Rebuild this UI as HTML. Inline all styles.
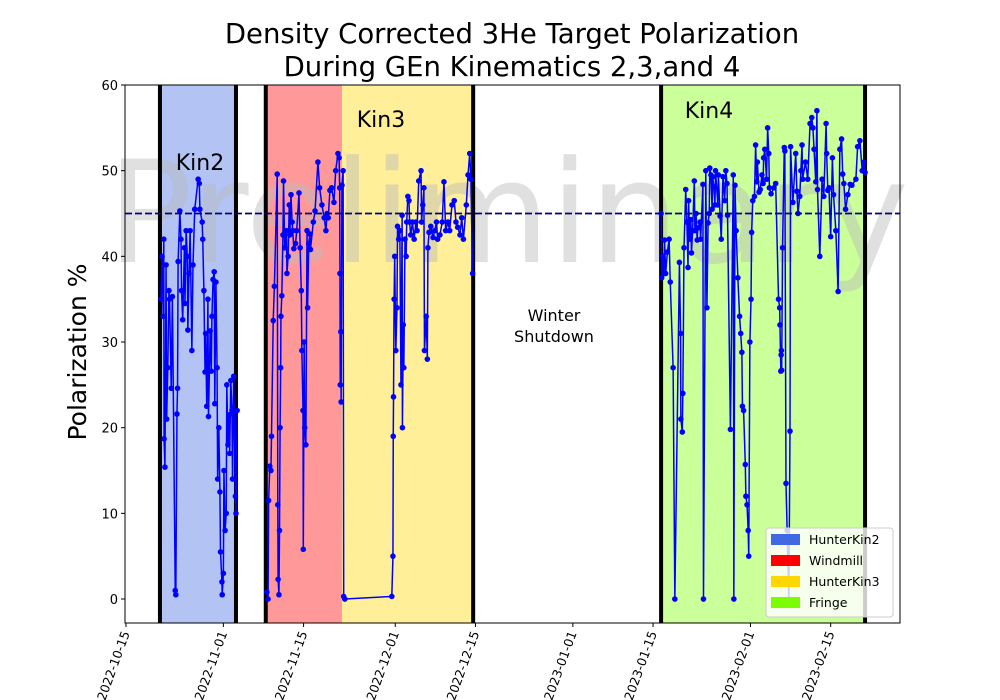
<!DOCTYPE html>
<html><head><meta charset="utf-8"><style>
body{margin:0;background:#fff;}
svg{display:block;font-family:"DejaVu Sans","Liberation Sans",sans-serif;}
</style></head><body>
<svg id="chart" width="1000" height="700">
<text x="512" y="43" font-size="27.5" text-anchor="middle">Density Corrected 3He Target Polarization</text>
<text x="512" y="76" font-size="27.5" text-anchor="middle">During GEn Kinematics 2,3,and 4</text>
<text transform="translate(86,352) rotate(-90)" font-size="25" text-anchor="middle">Polarization %</text>
<g id="bands"></g>
<text x="508" y="262" font-size="142" fill="#bbbbbb" fill-opacity="0.45" text-anchor="middle">Preliminary</text>
<g id="vlines"></g>
<g id="series"></g>
<g id="refline"></g>
<text x="200" y="170" font-size="22" text-anchor="middle">Kin2</text>
<text x="381" y="127" font-size="22" text-anchor="middle">Kin3</text>
<text x="709" y="118" font-size="22" text-anchor="middle">Kin4</text>
<text x="554" y="321" font-size="16" text-anchor="middle">Winter</text>
<text x="554" y="342" font-size="16" text-anchor="middle">Shutdown</text>
<rect x="125" y="85" width="775" height="538" fill="none" stroke="#000" stroke-width="1"/>
<g id="axes"></g>
<g>
<rect x="766" y="528" width="127" height="89" rx="3" fill="#fff" fill-opacity="0.8" stroke="#ccc"/>
<rect x="771" y="534" width="29" height="11" fill="#4169e1"/>
<text x="809" y="544" font-size="12.5">HunterKin2</text>
<rect x="771" y="555" width="29" height="11" fill="#ff0000"/>
<text x="809" y="565" font-size="12.5">Windmill</text>
<rect x="771" y="576" width="29" height="11" fill="#ffd700"/>
<text x="809" y="586" font-size="12.5">HunterKin3</text>
<rect x="771" y="597" width="29" height="11" fill="#7cfc00"/>
<text x="809" y="607" font-size="12.5">Fringe</text>
</g>
</svg>
<script>
// x in days since 2022-10-15
const bandNames=["hunterkin2-band","windmill-band","hunterkin3-band","fringe-band"];
const bandStart=[5.93,24.4,37.7,93.4];
const bandEnd=[19.2,37.7,60.6,129.0];
const bandColors=["#b3c3f3","#ff9999","#ffef99","#cbff99"];
const boundaryDays=[5.93,19.2,24.4,60.6,93.4,129.0];
const refValue=45;
const yTicks=[0,10,20,30,40,50,60];
const xTickDays=[0,17,31,47,61,78,92,109,123];
const xTickLabels=["2022-10-15","2022-11-01","2022-11-15","2022-12-01","2022-12-15","2023-01-01","2023-01-15","2023-02-01","2023-02-15"];
const days=[6.1,6.3,6.5,6.6,6.65,6.8,7.0,7.1,7.3,7.5,7.6,7.9,8.1,8.6,8.7,8.9,9.0,9.1,9.4,9.6,9.7,9.9,10.2,10.3,10.5,10.7,10.8,11.0,11.2,11.5,11.7,12.0,12.6,12.8,12.9,13.3,13.4,13.6,13.8,13.9,14.1,14.3,14.4,14.7,14.9,15.0,15.2,15.4,15.5,15.7,15.9,16.0,16.2,16.4,16.5,16.75,16.8,17.0,17.1,17.3,17.5,17.6,17.8,18.0,18.1,18.3,18.5,18.6,18.8,19.1,19.2,19.4,
24.6,24.8,24.9,25.1,25.3,25.4,25.7,25.9,26.4,26.5,26.55,26.7,26.8,26.9,27.0,27.05,27.2,27.4,27.5,27.7,28.0,28.1,28.3,28.5,28.6,28.8,29.0,29.1,29.3,29.6,29.8,30.2,30.4,30.6,30.7,30.9,30.95,31.1,31.2,31.4,31.6,31.7,31.9,32.1,32.2,32.7,33.0,33.5,33.8,34.2,34.6,34.9,35.1,35.3,35.6,35.9,36.3,36.6,37.0,37.2,37.3,37.35,37.4,37.5,37.55,37.7,37.9,38.0,38.2,
46.4,46.6,46.65,46.7,46.8,46.9,47.1,47.3,47.4,47.6,47.8,48.0,48.2,48.25,48.4,48.5,48.7,48.9,49.0,49.2,49.4,49.5,49.7,50.0,50.3,50.6,50.8,51.1,51.5,51.6,51.8,52.0,52.1,52.4,52.6,52.7,52.9,53.2,53.6,53.9,54.2,54.4,54.8,55.2,55.5,55.8,56.2,56.5,56.9,57.3,57.6,57.9,58.3,58.6,58.9,59.4,59.7,60.0,60.2,60.5,
93.4,93.5,93.7,93.9,94.0,94.2,94.5,94.8,95.0,95.5,95.8,96.6,96.8,96.85,97.1,97.2,97.4,97.7,97.9,98.1,98.2,98.4,98.6,98.7,98.9,99.2,99.3,99.5,99.7,99.8,100.2,100.3,100.7,100.8,101.2,101.4,101.6,101.8,101.9,102.1,102.3,102.4,102.6,102.8,102.9,103.3,103.4,103.7,103.9,104.2,104.5,104.7,104.9,105.0,105.5,106.0,106.1,106.3,106.5,106.8,107.1,107.3,107.5,107.6,107.8,108.1,108.2,108.4,108.6,108.7,108.9,109.1,109.2,109.4,109.7,109.9,110.1,110.2,110.5,110.7,111.0,111.2,111.3,111.5,111.8,112.0,112.2,112.3,112.6,113.1,113.4,113.9,114.1,114.15,114.3,114.35,114.4,114.45,114.6,114.9,115.0,115.2,115.4,115.7,115.9,116.0,116.4,116.9,117.1,117.3,117.6,117.8,118.0,118.1,118.6,119.0,119.4,119.7,119.9,120.1,120.4,120.6,120.7,121.1,121.5,121.8,122.2,122.3,122.5,122.7,123.0,123.3,123.5,123.9,124.3,124.6,124.9,125.1,125.3,125.6,126.0,126.4,126.7,127.4,127.7,128.1,128.5,128.8,129.0];
const pol=[35,40,33,42,18.7,15.4,39,21,27,36,35,24.6,35.3,1,0.5,21.6,24.6,39.4,45.3,42,36,32.6,41,34.5,43,40,31.4,38,43,29,39,45.5,49,48.5,45.5,44,42,36,26.5,31,22.5,35,21.3,31.3,26.6,33,37.3,38.2,22.8,37,27,14,20,12.5,5.5,2,0.5,3,15,8,10,25,18,21.5,17,25.5,22,14,26,12,10,22,
0.8,0,11.5,15.5,15,19,32.5,36.5,49.6,11,2.3,0.5,8,20,27,33,35.4,42.5,48.8,41,43,38,40,46,42.5,47.2,44,43,40.9,41.5,43,47.4,41,36,29,22,5.8,30,20,18,43,34,41.5,42.6,40.8,44,45.3,51,48,46,44.5,43,45,44.5,47.7,48,46.3,50,52,51.5,48,38,25,31.2,23,48.3,50,0.3,0,
0.3,5,19,23.6,35,40,29,34,43.5,42,43,25,44.8,20,32,27,42,40,44,47,46.5,44,42.5,44,42,44,43,48.8,50,44,46,48,29,33,28,41,42.8,43.5,42.2,43,44,42,42.5,44,48.7,43,44,43,46,46.5,44,43.4,42.5,44.5,42,46,49.5,52,49,38,
45,37.5,40,38,41.9,38,40.5,42,37,27,0,39.3,31,21,19.5,24,41,47.8,44,38.7,46.5,42,44.3,40.4,43,48.8,43,45,41.9,43.3,44,42,48.4,0,50,34,43.9,45,50.3,49.5,45.5,49.3,48.1,46,50,46,49.5,44.7,42,49.3,46.5,50,48.5,44.8,19.8,49.5,0,48.3,43,37.5,33,31,28.8,22.5,22,15.7,12,11,8,5,30,35,42.8,46.5,47,53,48.7,51,47.5,47.8,49.5,48.5,51.5,52.5,49,55,52,48,47.3,48,48.5,35,34,32,26.6,28.5,29,26.7,41,52.7,52.3,13.5,8,0,19.6,52.8,46.3,52,47.6,45,47,50,53,49,51,49,55.5,56.2,55,52.5,48.7,57,47.8,40,49,47,55.5,52,47.7,48,42.3,51.5,47.2,43,35.9,52.5,53.7,49.6,48.5,45.5,47.2,48.4,48.3,49,52.8,53.5,50,51,49.8];
const X0=125,X1=900,D0=-0.17,D1=135.1,Y0=623,Y1=85,V0=-2.8,V1=60;
const sx=d=>X0+(d-D0)/(D1-D0)*(X1-X0);
const sy=v=>Y0-(v-V0)/(V1-V0)*(Y0-Y1);
const NS="http://www.w3.org/2000/svg";
function mk(tag,parent,attrs){const e=document.createElementNS(NS,tag);for(const k in attrs)e.setAttribute(k,attrs[k]);document.getElementById(parent).appendChild(e);return e;}
bandStart.forEach((s,i)=>{
 const r=mk('rect','bands',{x:sx(s),y:Y1,width:sx(bandEnd[i])-sx(s),height:Y0-Y1,fill:bandColors[i]});
 
 
});
boundaryDays.forEach(d=>{
 const l=mk('line','vlines',{x1:sx(d),x2:sx(d),y1:Y1,y2:Y0,stroke:'#000','stroke-width':4});
 
 
});
let segs=[],cur=[];
for(let i=0;i<days.length;i++){
 if(i>0&&days[i]-days[i-1]>4&&!(days[i-1]>38&&days[i-1]<38.5)){segs.push(cur);cur=[];}
 cur.push([sx(days[i]),sy(pol[i])]);
}
segs.push(cur);
segs.forEach(s=>{
 const p=mk('polyline','series',{points:s.map(q=>q.join(',')).join(' '),fill:'none',stroke:'#0000ff','stroke-width':1.5});
 
 
});
for(let i=0;i<days.length;i++){
 const c=mk('circle','series',{cx:sx(days[i]),cy:sy(pol[i]),r:2.8,fill:'#0000ff'});
 
 
}
const rl=mk('line','refline',{x1:X0,x2:X1,y1:sy(refValue),y2:sy(refValue),stroke:'#000080','stroke-width':1.8,'stroke-dasharray':'7,3'});


yTicks.forEach(v=>{
 const t=mk('line','axes',{x1:X0-4,x2:X0,y1:sy(v),y2:sy(v),stroke:'#000'});
 
 
 const tx=mk('text','axes',{x:X0-7,y:sy(v)+5,'font-size':13,'text-anchor':'end'});
 tx.textContent=v;
 
 
});
xTickDays.forEach((d,i)=>{
 const x=sx(d);
 const t=mk('line','axes',{x1:x,x2:x,y1:Y0,y2:Y0+4,stroke:'#000'});
 
 
 const tx=mk('text','axes',{transform:`translate(${x+4},${Y0+10}) rotate(-70)`,'font-size':12.5,'text-anchor':'end'});
 tx.textContent=xTickLabels[i];
 
 
});
</script>
</body></html>
